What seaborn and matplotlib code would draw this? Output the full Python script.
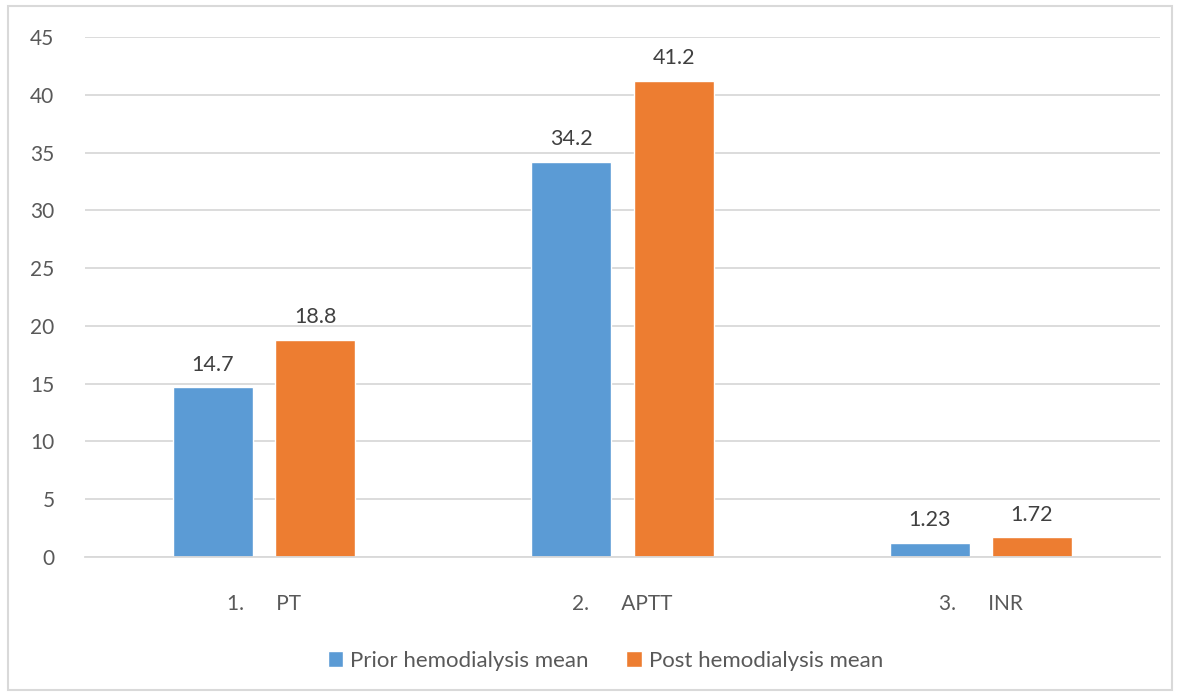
import seaborn as sns
import matplotlib.pyplot as plt
import pandas as pd
from matplotlib.patches import Rectangle

categories = ['1.      PT', '2.      APTT', '3.      INR']
prior = [14.7, 34.2, 1.23]
post = [18.8, 41.2, 1.72]
series = ['Prior hemodialysis mean', 'Post hemodialysis mean']

df = pd.DataFrame({
    'cat': categories * 2,
    'val': prior + post,
    'series': [series[0]] * 3 + [series[1]] * 3,
})

sns.set_style('white')
plt.rcParams['font.family'] = ['Lato', 'DejaVu Sans']

fig = plt.figure(figsize=(11.81, 6.96), dpi=100)
ax = fig.add_axes([85 / 1181, 1 - 557 / 696, 1075 / 1181, 520 / 696])

sns.barplot(data=df, x='cat', y='val', hue='series', ax=ax,
            palette=['#5B9BD5', '#ED7D31'], width=0.57, gap=0.216,
            saturation=1, legend=True)

ax.set_ylim(0, 45)
ax.set_xlim(-0.5, 2.5)
ax.set_yticks(range(0, 46, 5))
ax.yaxis.grid(True, color='#D9D9D9', linewidth=1.3)
ax.set_axisbelow(True)
for s in ['top', 'right', 'left']:
    ax.spines[s].set_visible(False)
ax.spines['bottom'].set_color('#D9D9D9')
ax.spines['bottom'].set_linewidth(1.3)
ax.tick_params(axis='both', length=0, labelsize=15, labelcolor='#595959')
ax.tick_params(axis='y', pad=22)
ax.tick_params(axis='x', pad=27)
ax.set_xlabel('')
ax.set_ylabel('')

for cont, vals in zip(ax.containers, [prior, post]):
    ax.bar_label(cont, labels=[f'{v:g}' for v in vals], padding=9,
                 fontsize=15.5, color='#404040')

leg = ax.legend(loc='center', bbox_to_anchor=(0.484, -0.2), ncol=2,
                frameon=False, fontsize=16, handlelength=0.7, handleheight=0.7,
                handletextpad=0.3, columnspacing=1.7)
for t in leg.get_texts():
    t.set_color('#595959')

fig.patches.append(Rectangle((8 / 1181, 6 / 696), 1164 / 1181, 684 / 696,
                             transform=fig.transFigure, fill=False,
                             edgecolor='#D9D9D9', linewidth=1.5))

fig.savefig('out.png', dpi=100)
